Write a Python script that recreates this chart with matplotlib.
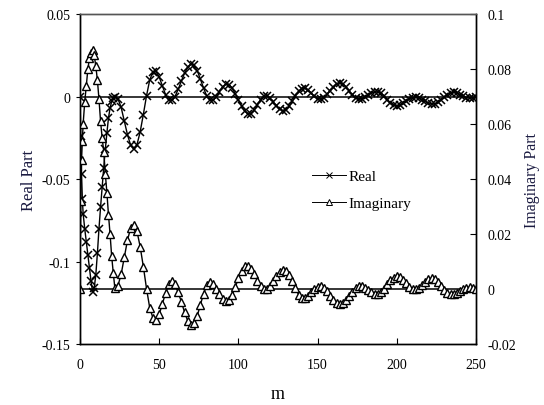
import matplotlib
matplotlib.use("Agg")
import matplotlib.pyplot as plt

plt.rcParams['font.family'] = ['Liberation Serif', 'DejaVu Serif']

# m values: fine steps near the start, then every 2
m_early = [0, 0.5, 1, 1.5, 2, 3, 4, 5, 6, 7, 8, 9, 10, 11, 12, 13, 14, 15,
           16, 17, 18, 19, 20, 21, 22]
m_late = list(range(24, 251, 2))

real_early = [0, -0.024, -0.047, -0.062, -0.071, -0.080, -0.088, -0.096, -0.104,
              -0.112, -0.1185, -0.116, -0.108, -0.095, -0.080, -0.067, -0.055,
              -0.043, -0.032, -0.022, -0.013, -0.007, -0.003, -0.001, 0.0]
imag_early = [0, 0.032, 0.047, 0.054, 0.060, 0.068, 0.074, 0.080, 0.084, 0.086,
              0.087, 0.085, 0.081, 0.076, 0.069, 0.061, 0.055, 0.050, 0.042,
              0.035, 0.027, 0.020, 0.012, 0.006, 0.0005]

real_late = [
    -0.0013, -0.0066, -0.0149, -0.0232, -0.0295, -0.0318,
    -0.0291, -0.0214, -0.0109, 0.0004, 0.0099, 0.0149,
    0.0152, 0.0119, 0.0066, 0.0012, -0.0021,
    -0.0022, 0.0000, 0.0044, 0.0093, 0.0142, 0.0177, 0.0196,
    0.0189, 0.0157, 0.0106, 0.0052, 0.0004, -0.0022,
    -0.0023, -0.0003, 0.0029, 0.0059, 0.0075,
    0.0072, 0.0051, 0.0018, -0.0019, -0.0057, -0.0088, -0.0104,
    -0.0103, -0.0083, -0.0051, -0.0018, 0.0002,
    0.0003, -0.0010, -0.0032, -0.0056, -0.0077, -0.0086,
    -0.0081, -0.0060, -0.0030, 0.0003, 0.0032, 0.0048,
    0.0049, 0.0038, 0.0019, 0.0001, -0.0012,
    -0.0015, -0.0006, 0.0013, 0.0036, 0.0060, 0.0076, 0.0082,
    0.0075, 0.0058, 0.0034, 0.0009, -0.0008, -0.0015,
    -0.0012, -0.0003, 0.0009, 0.0021, 0.0028,
    0.0028, 0.0020, 0.0003, -0.0018, -0.0037, -0.0051, -0.0056,
    -0.0052, -0.0042, -0.0029, -0.0016, -0.0007,
    -0.0005, -0.0009, -0.0019, -0.0029, -0.0039, -0.0044,
    -0.0044, -0.0036, -0.0021, -0.0004, 0.0012, 0.0022,
    0.0025, 0.0021, 0.0012, 0.0002, -0.0007, -0.0010, -0.0008, -0.0005]

imag_late = [
    0.0013, 0.0054, 0.0117, 0.0178, 0.0222, 0.0234,
    0.0210, 0.0154, 0.0082, 0.0002, -0.0067, -0.0104,
    -0.0111, -0.0092, -0.0055, -0.0014, 0.0017,
    0.0028, 0.0017, -0.0012, -0.0046, -0.0084, -0.0115, -0.0129,
    -0.0124, -0.0098, -0.0057, -0.0017, 0.0014, 0.0025,
    0.0019, 0.0002, -0.0018, -0.0035, -0.0044,
    -0.0041, -0.0023, 0.0006, 0.0039, 0.0067, 0.0083, 0.0085,
    0.0074, 0.0055, 0.0031, 0.0011, 0.0001,
    0.0002, 0.0013, 0.0029, 0.0048, 0.0063, 0.0070,
    0.0066, 0.0050, 0.0028, 0.0003, -0.0020, -0.0031,
    -0.0032, -0.0025, -0.0012, 0.0000, 0.0009,
    0.0011, 0.0005, -0.0008, -0.0024, -0.0039, -0.0050, -0.0055,
    -0.0051, -0.0040, -0.0026, -0.0010, 0.0004, 0.0010,
    0.0010, 0.0005, -0.0004, -0.0012, -0.0017,
    -0.0018, -0.0012, 0.0002, 0.0017, 0.0032, 0.0042, 0.0046,
    0.0043, 0.0033, 0.0022, 0.0009, 0.0002,
    0.0000, 0.0005, 0.0016, 0.0027, 0.0036, 0.0040,
    0.0036, 0.0027, 0.0013, -0.0002, -0.0014, -0.0019,
    -0.0019, -0.0015, -0.0008, 0.0000, 0.0005, 0.0007, 0.0005, 0.0002]

m = m_early + m_late
real = real_early + real_late
imag = imag_early + imag_late

x_ticks = [0, 50, 100, 150, 200, 250]
left_ticks = [0.05, 0, -0.05, -0.1, -0.15]
left_labels = ['0.05', '0', '-0.05', '-0.1', '-0.15']
right_ticks = [0.1, 0.08, 0.06, 0.04, 0.02, 0, -0.02]
right_labels = ['0.1', '0.08', '0.06', '0.04', '0.02', '0', '-0.02']

fig = plt.figure(figsize=(5.44, 4.06), dpi=100)
ax = fig.add_axes([0.147, 0.150, 0.728, 0.813])
ax2 = ax.twinx()

l1, = ax.plot(m, real, color='black', lw=1.0, marker='x', ms=5.5, mew=1.1,
              label='Real')
l2, = ax2.plot(m, imag, color='black', lw=1.0, marker='^', ms=5.5, mew=1.0,
               mfc='white', label='Imaginary')
ax.axhline(0, color='black', lw=1.1, zorder=0)
ax2.axhline(0, color='black', lw=1.1, zorder=0)

ax.set_xlim(0, 250)
ax.set_ylim(-0.15, 0.05)
ax2.set_ylim(-0.02, 0.1)
ax.set_xticks(x_ticks)
ax.set_yticks(left_ticks)
ax.set_yticklabels(left_labels)
ax2.set_yticks(right_ticks)
ax2.set_yticklabels(right_labels)

ax.tick_params(axis='x', direction='in', length=4, labelsize=10, pad=10)
ax.tick_params(axis='y', direction='out', length=3, labelsize=10, pad=4)
ax2.tick_params(axis='y', direction='in', length=4, labelsize=10, pad=8)

for a in (ax, ax2):
    for s in a.spines.values():
        s.set_linewidth(1.0)
ax.spines['top'].set_color('#555555')
ax2.spines['top'].set_color('#555555')

ax.set_xlabel('m', fontsize=13, labelpad=10)
ax.set_ylabel('Real Part', fontsize=12, color='#1a1a40', labelpad=3)
ax2.set_ylabel('Imaginary Part', fontsize=11.5, color='#1a1a40', labelpad=6)

leg = ax2.legend(handles=[l1, l2], loc='center', bbox_to_anchor=(0.665, 0.53),
                 frameon=False, fontsize=11, handlelength=2.2, labelspacing=0.9,
                 handletextpad=0.2, bbox_transform=fig.transFigure)
for h in leg.legend_handles:
    h.set_linewidth(0.7)
    h.set_markersize(5)
    h.set_markeredgewidth(0.7)

fig.savefig('out.png', dpi=100)
